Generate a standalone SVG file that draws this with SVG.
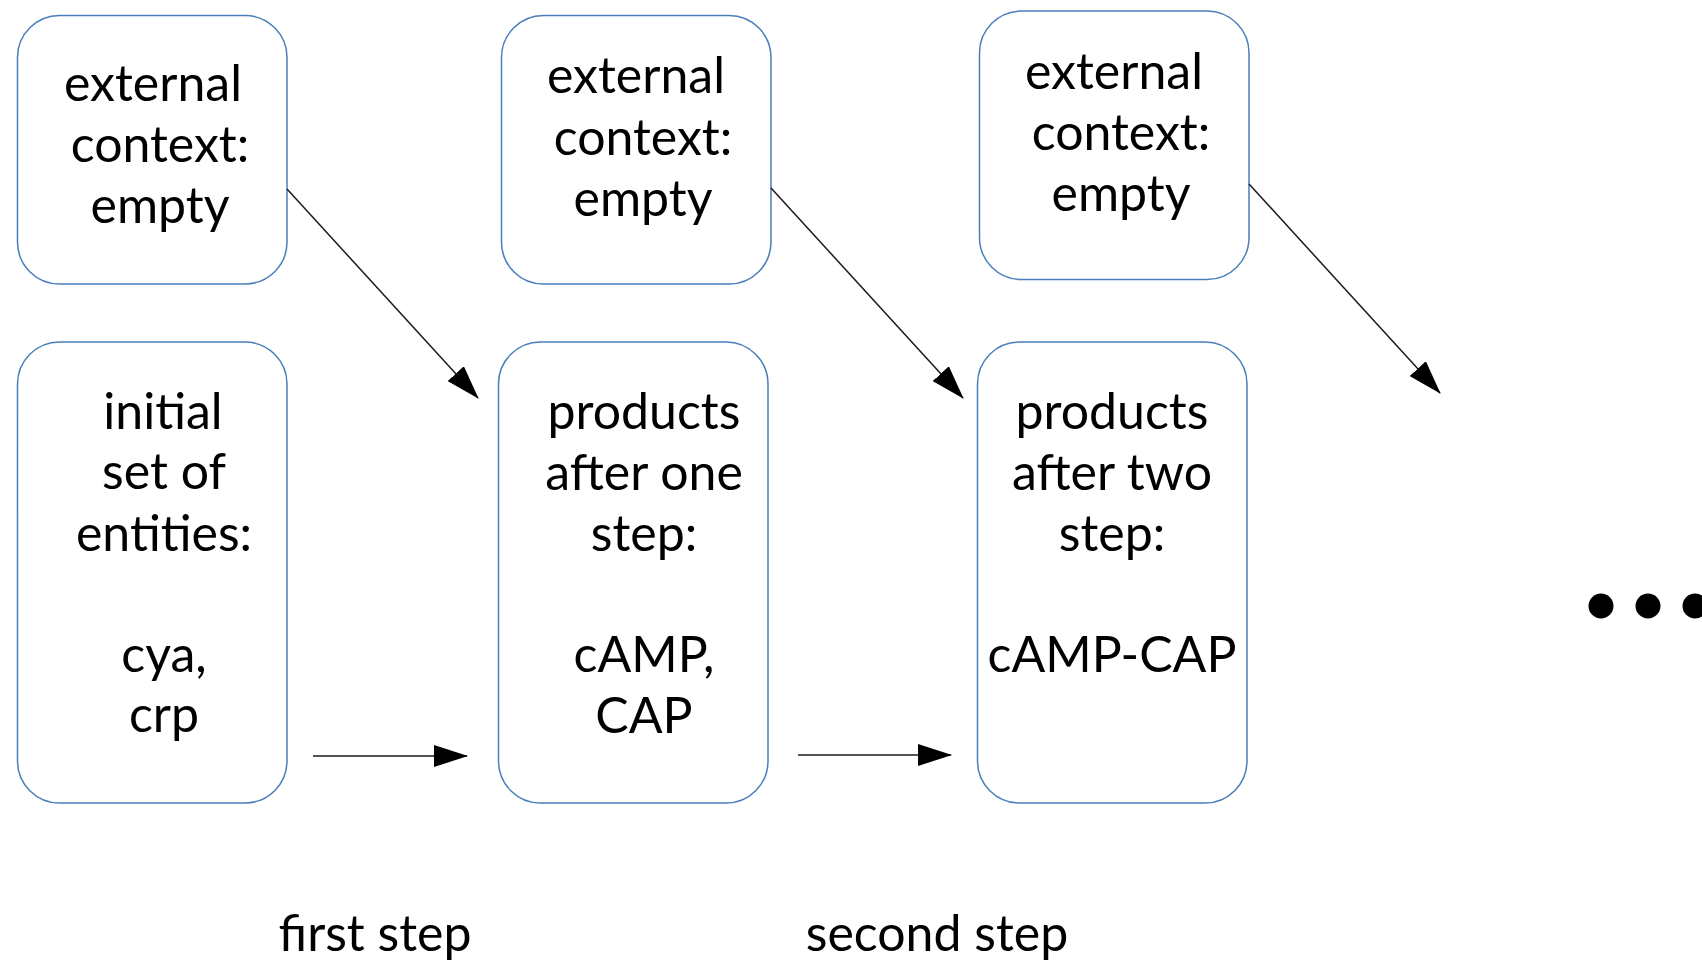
<svg xmlns="http://www.w3.org/2000/svg" width="1702" height="964" viewBox="0 0 1702 964">
  <style>
    .box { fill: #ffffff; stroke: #4a7ebb; stroke-width: 1.5; }
    .lbl { font-family: Lato, "Open Sans", "Liberation Sans", sans-serif; font-size: 50px; fill: #000000; text-anchor: middle; }
    .edge { stroke: #1a1a1a; stroke-width: 1.5; fill: none; marker-end: url(#head); }
  </style>
  <defs>
    <marker id="head" markerUnits="userSpaceOnUse" markerWidth="34" markerHeight="22" refX="33" refY="11" orient="auto">
      <path d="M0,0 L34,11 L0,22 z" fill="#000000"/>
    </marker>
  </defs>
  <rect width="1702" height="964" fill="#ffffff"/>

  <!-- context boxes (top row) -->
  <g id="ctx1">
    <rect class="box" x="17.5" y="15.5" width="269.5" height="268.5" rx="42"/>
    <text class="lbl"><tspan x="153" y="101">external</tspan><tspan x="160" y="162">context:</tspan><tspan x="160" y="223">empty</tspan></text>
  </g>
  <g id="ctx2">
    <rect class="box" x="501.5" y="15.5" width="269.5" height="268.5" rx="42"/>
    <text class="lbl"><tspan x="636" y="93">external</tspan><tspan x="643" y="155">context:</tspan><tspan x="643" y="216">empty</tspan></text>
  </g>
  <g id="ctx3">
    <rect class="box" x="979.5" y="11" width="269.5" height="268.5" rx="42"/>
    <text class="lbl"><tspan x="1114" y="89">external</tspan><tspan x="1121" y="150">context:</tspan><tspan x="1121" y="211">empty</tspan></text>
  </g>

  <!-- entity sets (bottom row) -->
  <g id="state0">
    <rect class="box" x="17.5" y="342" width="269.5" height="461" rx="42"/>
    <text class="lbl"><tspan x="163" y="429">initial</tspan><tspan x="164" y="489">set of</tspan><tspan x="164" y="551">entities:</tspan><tspan x="164" y="672">cya,</tspan><tspan x="164" y="732">crp</tspan></text>
  </g>
  <g id="state1">
    <rect class="box" x="498.5" y="342" width="269.5" height="461" rx="42"/>
    <text class="lbl"><tspan x="644" y="429">products</tspan><tspan x="644" y="490">after one</tspan><tspan x="644" y="551">step:</tspan><tspan x="644" y="672">cAMP,</tspan><tspan x="644" y="733">CAP</tspan></text>
  </g>
  <g id="state2">
    <rect class="box" x="977.5" y="342" width="269.5" height="461" rx="42"/>
    <text class="lbl"><tspan x="1112" y="429">products</tspan><tspan x="1112" y="490">after two</tspan><tspan x="1112" y="551">step:</tspan><tspan x="1112" y="672">cAMP-CAP</tspan></text>
  </g>

  <!-- connectors -->
  <g id="connectors">
    <line class="edge" x1="287" y1="189" x2="478" y2="398"/>
    <line class="edge" x1="771" y1="188" x2="963" y2="398"/>
    <line class="edge" x1="1249" y1="184" x2="1440" y2="393"/>
    <line class="edge" x1="313" y1="756" x2="467" y2="756"/>
    <line class="edge" x1="798" y1="755" x2="951" y2="755"/>
  </g>

  <!-- continuation dots -->
  <g id="ellipsis" fill="#000000">
    <circle cx="1601" cy="606" r="12.5"/>
    <circle cx="1648" cy="606" r="12.5"/>
    <circle cx="1695" cy="606" r="12.5"/>
  </g>

  <!-- step captions -->
  <g id="captions">
    <text class="lbl" x="375" y="951">first step</text>
    <text class="lbl" x="937" y="951">second step</text>
  </g>
</svg>
